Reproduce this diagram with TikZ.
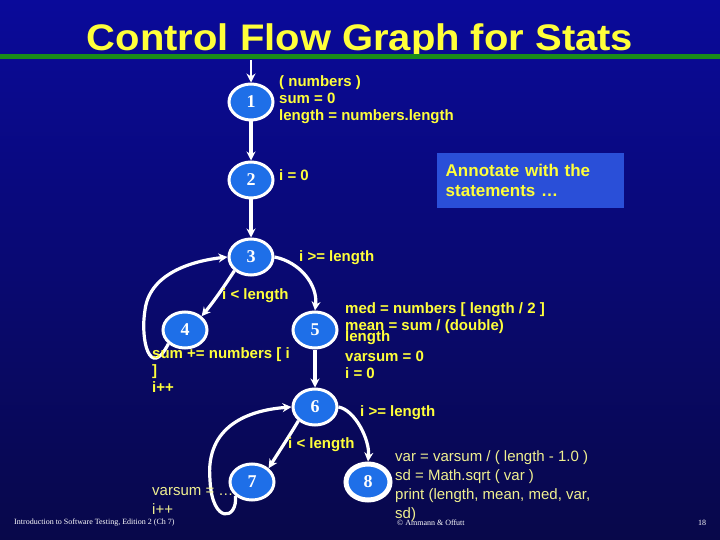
\documentclass[tikz,border=0pt]{standalone}
\usepackage{fontspec}
\setmainfont{Liberation Sans}
\usetikzlibrary{arrows.meta,shapes.geometric}
\definecolor{bgtop}{HTML}{0A0A9A}
\definecolor{bgbot}{HTML}{08084A}
\definecolor{nodeblue}{HTML}{1E6FE8}
\definecolor{ylw}{HTML}{FFFF3A}
\definecolor{pale}{HTML}{F0F090}
\definecolor{grn}{HTML}{1A8C1A}
\definecolor{boxblue}{HTML}{2A4FD8}
\begin{document}
\begin{tikzpicture}[x=1pt,y=-1pt,
  cfg/.style={ellipse,draw=white,line width=3pt,fill=nodeblue,minimum width=44pt,minimum height=36pt,inner sep=0pt,text=white,font=\fontspec{Liberation Serif}\bfseries\fontsize{18}{18}\selectfont},
  lab/.style={text=ylw,font=\bfseries\fontsize{15}{17}\selectfont,anchor=west,inner sep=0pt,align=left},
  plab/.style={text=pale,font=\fontsize{15}{19}\selectfont,anchor=west,inner sep=0pt,align=left},
  e/.style={draw=white,line width=3.2pt,-{Stealth[length=9pt,width=9pt]}},
  foot/.style={text=white,font=\fontspec{Liberation Serif}\fontsize{8}{9}\selectfont,inner sep=0pt}]
\shade[top color=bgtop,bottom color=bgbot] (0,0) rectangle (720,540);
\useasboundingbox (0,0) rectangle (720,540);
\node[text=ylw,font=\bfseries\fontsize{37}{37}\selectfont,xscale=1.08] (title) at (360,41) {Control Flow Graph for Stats};
\fill[grn] (0,54.5) rectangle (720,59);
\node[cfg] (n1) at (251,102) {1};
\node[cfg] (n2) at (251,180) {2};
\node[cfg] (n3) at (251,257) {3};
\node[cfg] (n4) at (185,330) {4};
\node[cfg] (n5) at (315,330) {5};
\node[cfg] (n6) at (315,407) {6};
\node[cfg] (n7) at (252,482) {7};
\node[cfg,line width=5pt] (n8) at (368,482) {8};
\coordinate (top) at (251,60);
\draw[e,line width=2pt] (top) -- (n1);
\draw[e] (n1) -- (n2);
\draw[e] (n2) -- (n3);
\draw[e] (n3.south west) .. controls (225,285) and (215,300) .. (n4.north east);
\draw[e] (n3.east) .. controls (300,262) and (318,285) .. (n5.north);
\draw[e] (n4.south west) .. controls (150,380) and (140,340) .. (145,310) .. controls (150,270) and (200,260) .. (n3.west);
\draw[e] (n5) -- (n6);
\draw[e] (n6.south west) .. controls (290,435) and (280,450) .. (n7.north east);
\draw[e] (n6.east) .. controls (355,410) and (370,440) .. (n8.north);
\draw[e] (n7.south west) .. controls (238,520) and (212,525) .. (210,480) .. controls (205,425) and (250,410) .. (n6.west);
\node[lab] (t1) at (279,100) {( numbers )\\sum = 0\\length = numbers.length};
\node[lab] (t2) at (279,175) {i = 0};
\node[lab] (t3) at (299,258) {i >= length};
\node[lab] (t4) at (222,296) {i < length};
\node[lab] (t5) at (345,310) {med = numbers [ length / 2 ]};
\node[lab] (t5b) at (345,327) {mean = sum / (double)};
\node[lab] (t5c) at (345,338) {length};
\node[lab] (t5d) at (345,365) {varsum = 0\\i = 0};
\node[lab] (t6) at (152,370) {sum += numbers [ i\\]\\i++};
\node[lab] (t7) at (360,413) {i >= length};
\node[lab] (t8) at (288,445) {i < length};
\node[plab] (t9) at (152,501) {varsum = …\\i++};
\node[plab] (t10) at (395,486) {var = varsum / ( length - 1.0 )\\sd  = Math.sqrt ( var )\\print (length, mean, med, var,\\sd)};
\node[fill=boxblue,text=ylw,font=\bfseries\fontsize{17}{20}\selectfont,align=left,minimum width=187pt,minimum height=55pt,anchor=north west,inner sep=0pt,text width=170pt] (ann) at (437,153) {Annotate with the\\statements …};
\node[foot,anchor=west] (f1) at (14,523) {Introduction to Software Testing, Edition 2 (Ch 7)};
\node[foot,anchor=west] (f2) at (397,523) {© Ammann \& Offutt};
\node[foot] (f3) at (702,523) {18};
\end{tikzpicture}
\end{document}
